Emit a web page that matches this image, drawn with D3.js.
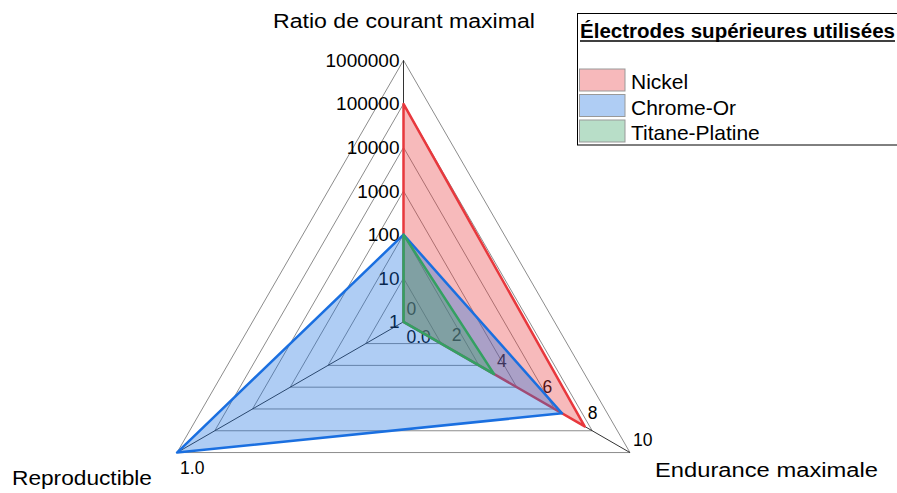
<!DOCTYPE html>
<html>
<head>
<meta charset="utf-8">
<script src="https://cdn.jsdelivr.net/npm/d3@7"></script>
<style>
  html, body { margin: 0; padding: 0; background: #fff; }
  svg { display: block; font-family: "Liberation Sans", Arial, sans-serif; }
</style>
</head>
<body>
<svg id="chart" width="897" height="493"></svg>
<script>
// ---- Data ----
const axisTitles = ["Ratio de courant maximal", "Endurance maximale", "Reproductible"];
const seriesNames = ["Nickel", "Chrome-Or", "Titane-Platine"];
const ratioValues = [100000, 100, 100];
const enduranceValues = [8, 7, 4];
const reproValues = [0, 1, 0];
const ratioTicks = [1, 10, 100, 1000, 10000, 100000, 1000000];
const enduranceTicks = [0, 2, 4, 6, 8, 10];
const reproTicks = [0, 1];
const seriesColors = ["#e8383d", "#1a6fe0", "#34a062"];
const legendTitle = "Électrodes supérieures utilisées";

// ---- Layout ----
const svg = d3.select("#chart");
const cx = 403.5, cy = 321.8, R = 261.5;
const gridLevels = d3.range(1, 7);

const rScale = d3.scaleLog().domain([1, 1000000]).range([0, R]);
const eScale = d3.scaleLinear().domain([0, 10]).range([0, R]);
const pScale = d3.scaleLinear().domain([0, 1]).range([0, R]);
const angles = [-Math.PI / 2, Math.PI / 6, 5 * Math.PI / 6];
const pt = (axis, dist) => [cx + dist * Math.cos(angles[axis]), cy + dist * Math.sin(angles[axis])];

const line = d3.line().curve(d3.curveLinearClosed);

// grid (concentric triangles)
const gGrid = svg.append("g");
gridLevels.forEach(k => {
  const d = R * k / 6;
  gGrid.append("path")
    .attr("d", line([pt(0, d), pt(1, d), pt(2, d)]))
    .attr("fill", "none")
    .attr("stroke", "#8c8c8c")
    .attr("stroke-width", 1);
});
// axes
[0, 1, 2].forEach(a => {
  const p = pt(a, R);
  gGrid.append("line")
    .attr("x1", cx).attr("y1", cy).attr("x2", p[0]).attr("y2", p[1])
    .attr("stroke", "#333").attr("stroke-width", 1);
});

// tick labels
const gTicks = svg.append("g").attr("font-size", 17.5).attr("fill", "#000");
ratioTicks.forEach(t => {
  const p = pt(0, rScale(t));
  gTicks.append("text")
    .attr("x", p[0] - 4).attr("y", p[1] + 6.6)
    .attr("text-anchor", "end")
    .attr("font-size", 19)
    .text(d3.format("d")(t));
});
enduranceTicks.forEach(t => {
  const p = pt(1, eScale(t));
  gTicks.append("text")
    .attr("x", p[0] + 3).attr("y", p[1] - 7)
    .text(t);
});
reproTicks.forEach(t => {
  const p = pt(2, pScale(t));
  gTicks.append("text")
    .attr("x", p[0] + 3).attr("y", p[1] + 21)
    .text(d3.format(".1f")(t));
});

// series polygons
const gSeries = svg.append("g");
seriesNames.forEach((name, i) => {
  const pts = [
    pt(0, rScale(ratioValues[i])),
    pt(1, eScale(enduranceValues[i])),
    pt(2, pScale(reproValues[i]))
  ];
  gSeries.append("path")
    .attr("d", line(pts))
    .attr("fill", seriesColors[i])
    .attr("fill-opacity", 0.35)
    .attr("stroke", seriesColors[i])
    .attr("stroke-width", 2.5)
    .attr("stroke-linejoin", "round");
});

// axis titles
const gTitles = svg.append("g").attr("font-size", 20).attr("fill", "#000");
gTitles.append("text").attr("x", 404).attr("y", 28).attr("text-anchor", "middle")
  .attr("textLength", 262).attr("lengthAdjust", "spacingAndGlyphs").text(axisTitles[0]);
gTitles.append("text").attr("x", 655).attr("y", 477)
  .attr("textLength", 223).attr("lengthAdjust", "spacingAndGlyphs").text(axisTitles[1]);
gTitles.append("text").attr("x", 12).attr("y", 485)
  .attr("textLength", 140).attr("lengthAdjust", "spacingAndGlyphs").text(axisTitles[2]);

// legend
const gLeg = svg.append("g");
gLeg.append("rect").attr("x", 577.5).attr("y", 13.5).attr("width", 330).attr("height", 131.5)
  .attr("fill", "#fff").attr("stroke", "#000").attr("stroke-width", 1);
gLeg.append("text").attr("x", 580).attr("y", 38).attr("font-size", 20).attr("font-weight", "bold")
  .attr("textLength", 315).attr("lengthAdjust", "spacingAndGlyphs").text(legendTitle);
gLeg.append("line").attr("x1", 580).attr("x2", 895).attr("y1", 41).attr("y2", 41)
  .attr("stroke", "#000").attr("stroke-width", 1.5);
const legY = d3.scaleOrdinal().domain(seriesNames).range([69, 94.5, 120]);
seriesNames.forEach((name, i) => {
  const y = legY(name);
  gLeg.append("rect").attr("x", 579.5).attr("y", y).attr("width", 45.5).attr("height", 22)
    .attr("fill", d3.interpolateRgb("#fff", seriesColors[i])(0.35))
    .attr("stroke", "#999").attr("stroke-width", 1);
  gLeg.append("text").attr("x", 631).attr("y", y + 20).attr("font-size", 21).text(name);
});
</script>
</body>
</html>
